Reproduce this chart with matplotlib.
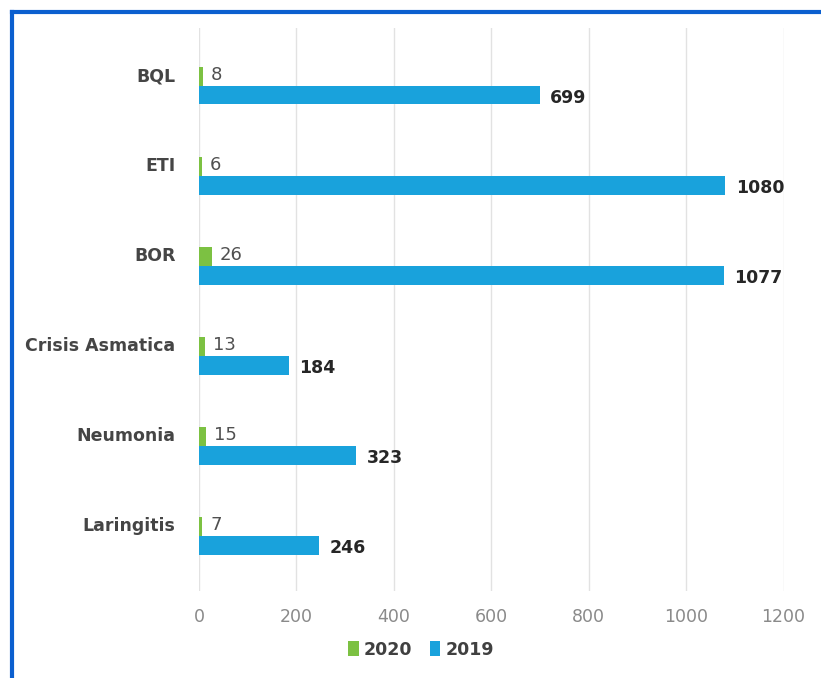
import matplotlib
matplotlib.use('Agg')
import matplotlib.pyplot as plt
import numpy as np

categories = ['BQL', 'ETI', 'BOR', 'Crisis Asmatica', 'Neumonia', 'Laringitis']
values_2020 = [8, 6, 26, 13, 15, 7]
values_2019 = [699, 1080, 1077, 184, 323, 246]
xticks = [0, 200, 400, 600, 800, 1000, 1200]

plt.rcParams['font.family'] = ['DejaVu Sans']

green = '#7cc142'
blue = '#19a2dc'

fig = plt.figure(figsize=(8.21, 6.78), dpi=100)
ax = fig.add_axes([0.2424, 0.128, 0.712, 0.83])

y = np.arange(len(categories))
h = 0.21
ax.barh(y - h / 2, values_2020, height=h, color=green, label='2020')
ax.barh(y + h / 2, values_2019, height=h, color=blue, label='2019')

for yi, v in zip(y, values_2020):
    ax.text(v + 16, yi - h / 2 - 0.01, str(v), va='center', ha='left',
            fontsize=13, color='#505050')
for yi, v in zip(y, values_2019):
    ax.text(v + 22, yi + h / 2 + 0.03, str(v), va='center', ha='left',
            fontsize=12.5, color='#262626', fontweight='bold')

ax.set_xlim(0, 1200)
ax.set_ylim(5.616, -0.634)
ax.set_xticks(xticks)
ax.set_yticks(y - h / 2 - 0.02)
ax.set_yticklabels(categories, fontsize=12.5, fontweight='bold', color='#454545')
ax.tick_params(axis='x', colors='#8a8a8a', labelsize=12.5, length=0, pad=12)
ax.tick_params(axis='y', length=0, pad=17)
ax.grid(axis='x', color='#e2e2e2', linewidth=1)
ax.set_axisbelow(True)
for s in ax.spines.values():
    s.set_visible(False)

ax.legend(loc='upper center', bbox_to_anchor=(0.38, -0.06), ncol=2, frameon=False,
          handlelength=0.6, handleheight=0.9, handletextpad=0.3, columnspacing=1.0,
          prop={'weight': 'bold', 'size': 12.5}, labelcolor='#404040')

# blue frame lines at top and left
fig.add_artist(plt.Line2D([0.0146, 1.0], [0.9823, 0.9823], color='#0b5fcf', linewidth=3,
                          transform=fig.transFigure))
fig.add_artist(plt.Line2D([0.0146, 0.0146], [0.0, 0.9823], color='#0b5fcf', linewidth=3,
                          transform=fig.transFigure))

fig.savefig('out.png', dpi=100)
